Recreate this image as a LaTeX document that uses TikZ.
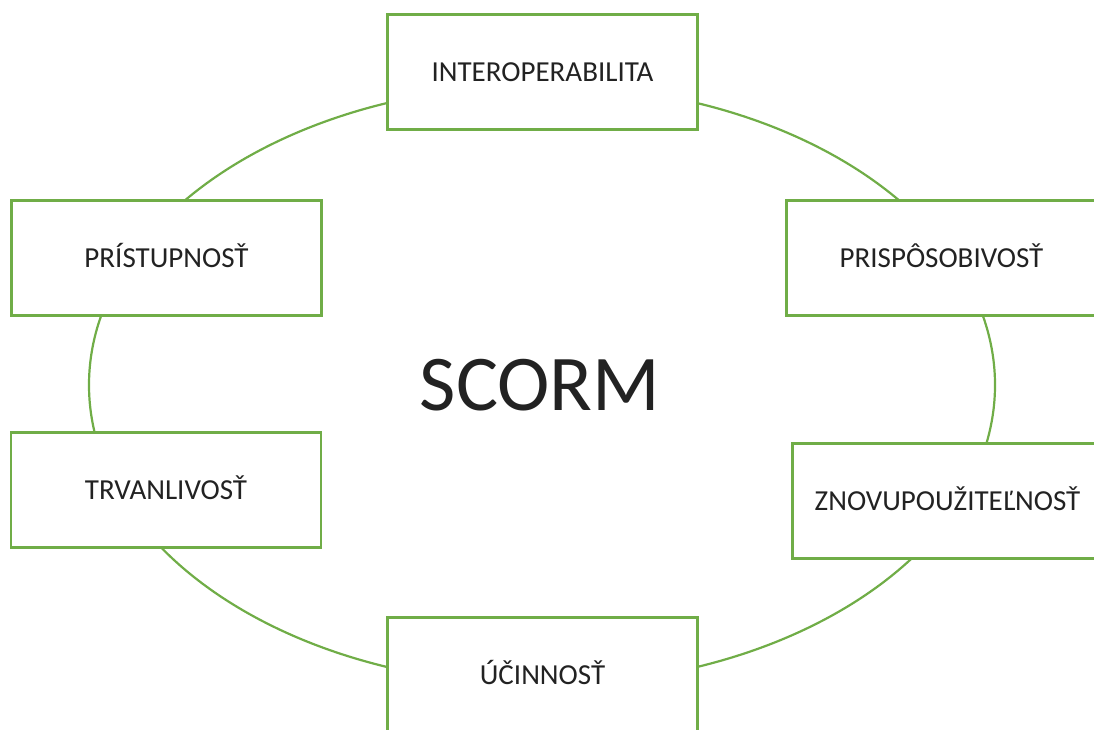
\documentclass[tikz,border=0pt]{standalone}
\usepackage{fontspec}
\setmainfont{Carlito}
\definecolor{zelena}{HTML}{70AD47}
\definecolor{pismo}{HTML}{222222}
\begin{document}
\begin{tikzpicture}[x=1pt,y=-1pt,
    pojem/.style={rectangle,draw=zelena,line width=2.2pt,fill=white,
      minimum width=310pt,minimum height=115pt,inner sep=0pt,
      text height=18.7pt,text depth=0pt,text=pismo,
      font=\fontsize{29}{35}\selectfont},
    kruh/.style={draw=zelena,line width=2.2pt}]
  \useasboundingbox (0,0) rectangle (1094,729);
  \clip (0,0) rectangle (1094,729);
  \coordinate (stred) at (542,385);
  \draw[kruh] (stred) ellipse [x radius=453pt,y radius=300pt];

  \path (542.5,72) node[pojem] (INT) {INTEROPERABILITA};
  \path (166.5,258) node[pojem] (PRI) {PRÍSTUPNOSŤ};
  \path (941.5,258) node[pojem] (PRS) {PRISPÔSOBIVOSŤ};
  \path (166,490) node[pojem] (TRV) {TRVANLIVOSŤ};
  \path (947.5,501) node[pojem] (ZNO) {ZNOVUPOUŽITEĽNOSŤ};
  \path (542.5,675) node[pojem] (UCI) {ÚČINNOSŤ};

  \path (540,385) node[inner sep=0pt,text height=50.9pt,text depth=0pt,
    text=pismo,font=\fontsize{79}{90}\selectfont] (S) {SCORM};
\end{tikzpicture}
\end{document}
